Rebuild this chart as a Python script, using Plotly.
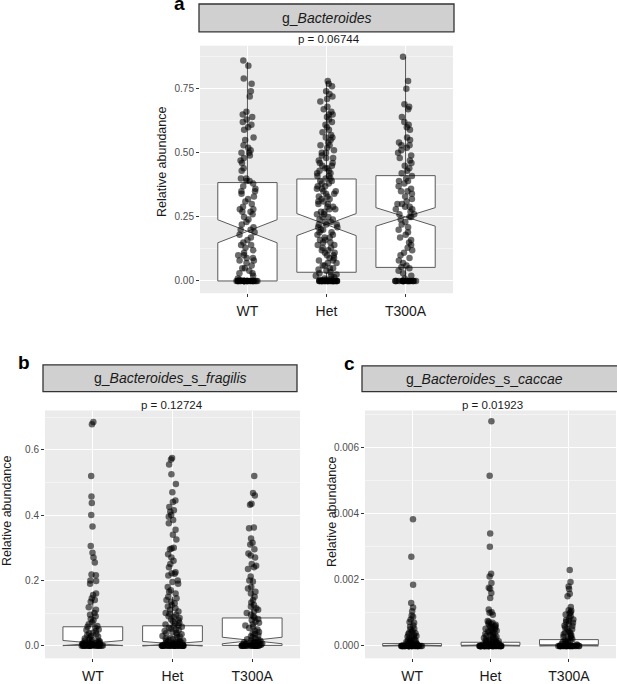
import plotly.graph_objects as go

W, H = 617, 684
groups = ["WT", "Het", "T300A"]

# ---- panel a: g_Bacteroides ----
a_wt = [0.86, 0.84, 0.79, 0.77, 0.74, 0.72, 0.66, 0.65, 0.64, 0.63, 0.62, 0.61, 0.60, 0.59,
        0.56, 0.55, 0.53, 0.52, 0.51, 0.50, 0.50, 0.49, 0.48, 0.47, 0.46, 0.44, 0.43, 0.40,
        0.40, 0.39, 0.39, 0.38, 0.37, 0.36, 0.35, 0.35, 0.34, 0.33, 0.32, 0.31, 0.30, 0.29,
        0.28, 0.28, 0.27, 0.27, 0.26, 0.25, 0.24, 0.23, 0.22, 0.21, 0.20, 0.20, 0.19, 0.18,
        0.17, 0.16, 0.15, 0.14, 0.14, 0.13, 0.12, 0.11, 0.10, 0.10, 0.09, 0.09, 0.08, 0.08,
        0.07, 0.06, 0.05, 0.05, 0.04, 0.03, 0.03, 0.02, 0.01, 0.005,
        0, 0, 0, 0, 0, 0, 0, 0, 0, 0, 0, 0, 0, 0, 0, 0, 0, 0, 0, 0, 0, 0, 0, 0, 0, 0, 0, 0]
a_het = [0.78, 0.77, 0.76, 0.74, 0.73, 0.72, 0.71, 0.70, 0.68, 0.67, 0.66, 0.65, 0.65, 0.64,
         0.63, 0.62, 0.61, 0.60, 0.59, 0.58, 0.57, 0.56, 0.56, 0.55, 0.54, 0.53, 0.53, 0.52,
         0.51, 0.50, 0.50, 0.49, 0.48, 0.48, 0.47, 0.46, 0.46, 0.45, 0.45, 0.44, 0.44, 0.43,
         0.43, 0.42, 0.42, 0.41, 0.41, 0.40, 0.40, 0.39, 0.39, 0.38, 0.38, 0.37, 0.37, 0.36,
         0.36, 0.35, 0.35, 0.34, 0.34, 0.33, 0.33, 0.32, 0.32, 0.31, 0.31, 0.30, 0.30, 0.29,
         0.29, 0.28, 0.28, 0.27, 0.27, 0.26, 0.26, 0.25, 0.25, 0.24, 0.24, 0.23, 0.23, 0.22,
         0.22, 0.22, 0.21, 0.21, 0.20, 0.20, 0.19, 0.19, 0.18, 0.18, 0.17, 0.17, 0.16, 0.16,
         0.15, 0.15, 0.14, 0.14, 0.13, 0.13, 0.12, 0.12, 0.11, 0.11, 0.10, 0.10, 0.09, 0.09,
         0.08, 0.08, 0.07, 0.07, 0.06, 0.06, 0.05, 0.05, 0.045, 0.04, 0.035, 0.03, 0.025,
         0.02, 0.02, 0.015, 0.01, 0.01, 0.005, 0.005, 0.003,
         0, 0, 0, 0, 0, 0, 0, 0, 0, 0, 0, 0, 0, 0, 0, 0, 0, 0, 0, 0, 0, 0, 0, 0, 0, 0, 0, 0]
a_t300a = [0.875, 0.78, 0.75, 0.69, 0.68, 0.67, 0.64, 0.62, 0.61, 0.60, 0.59, 0.56, 0.55, 0.54,
           0.53, 0.53, 0.52, 0.51, 0.50, 0.49, 0.48, 0.47, 0.46, 0.45, 0.44, 0.43, 0.42, 0.41,
           0.40, 0.39, 0.39, 0.38, 0.37, 0.36, 0.35, 0.35, 0.34, 0.33, 0.32, 0.31, 0.30, 0.30,
           0.29, 0.29, 0.28, 0.28, 0.27, 0.26, 0.26, 0.25, 0.25, 0.24, 0.23, 0.22, 0.21, 0.20,
           0.19, 0.18, 0.17, 0.16, 0.15, 0.14, 0.13, 0.12, 0.11, 0.10, 0.09, 0.08, 0.07, 0.06,
           0.055, 0.05, 0.04, 0.03, 0.02, 0.01,
           0, 0, 0, 0, 0, 0, 0, 0, 0, 0, 0, 0, 0, 0, 0, 0, 0, 0, 0, 0]
a_q1 = [0.0, 0.034, 0.053]
a_median = [0.194, 0.220, 0.250]
a_q3 = [0.384, 0.398, 0.411]
a_lower = [0.0, 0.0, 0.0]
a_upper = [0.855, 0.778, 0.875]
a_notch = [0.045, 0.043, 0.036]

# ---- panel b: g_Bacteroides_s_fragilis ----
b_wt = [0.685, 0.678, 0.52, 0.457, 0.437, 0.40, 0.365, 0.305, 0.285, 0.27, 0.255, 0.218, 0.216,
        0.20, 0.198, 0.19, 0.16, 0.155, 0.145, 0.14, 0.135, 0.118, 0.11, 0.10, 0.095, 0.09,
        0.082, 0.078, 0.072, 0.066, 0.06, 0.058, 0.055, 0.05, 0.048, 0.045, 0.04, 0.038, 0.035,
        0.032, 0.03, 0.028, 0.025, 0.022, 0.02, 0.018, 0.016, 0.015, 0.013, 0.012, 0.011, 0.01,
        0.009, 0.008, 0.008, 0.007, 0.006, 0.006, 0.005, 0.005, 0.004, 0.004, 0.003, 0.003,
        0.003, 0.002, 0.002, 0.002, 0.001, 0.001, 0.001, 0.001,
        0, 0, 0, 0, 0, 0, 0, 0, 0, 0, 0, 0, 0, 0, 0]
b_het = [0.575, 0.57, 0.555, 0.525, 0.495, 0.47, 0.445, 0.44, 0.425, 0.415, 0.41, 0.40, 0.395,
         0.385, 0.375, 0.355, 0.34, 0.325, 0.30, 0.298, 0.295, 0.28, 0.27, 0.26, 0.25, 0.24,
         0.225, 0.222, 0.22, 0.215, 0.20, 0.195, 0.19, 0.18, 0.17, 0.165, 0.16, 0.15, 0.145,
         0.14, 0.135, 0.13, 0.125, 0.12, 0.115, 0.11, 0.105, 0.10, 0.098, 0.095, 0.09, 0.088,
         0.085, 0.08, 0.078, 0.075, 0.07, 0.068, 0.065, 0.062, 0.06, 0.058, 0.055, 0.052, 0.05,
         0.048, 0.045, 0.042, 0.04, 0.038, 0.035, 0.033, 0.03, 0.028, 0.026, 0.024, 0.022, 0.02,
         0.018, 0.016, 0.015, 0.014, 0.013, 0.012, 0.011, 0.01, 0.009, 0.008, 0.007, 0.006,
         0.006, 0.005, 0.005, 0.004, 0.004, 0.004, 0.003, 0.003, 0.003, 0.002, 0.002, 0.002,
         0.002, 0.001, 0.001, 0.001, 0.001, 0.001,
         0, 0, 0, 0, 0, 0, 0, 0, 0, 0, 0, 0, 0, 0, 0, 0, 0, 0, 0, 0]
b_t300a = [0.52, 0.468, 0.46, 0.435, 0.432, 0.362, 0.36, 0.328, 0.315, 0.31, 0.295, 0.282, 0.276,
           0.27, 0.25, 0.245, 0.24, 0.235, 0.212, 0.2, 0.197, 0.18, 0.175, 0.165, 0.16, 0.15,
           0.14, 0.132, 0.125, 0.12, 0.115, 0.11, 0.105, 0.10, 0.095, 0.09, 0.086, 0.082, 0.078,
           0.074, 0.07, 0.066, 0.062, 0.058, 0.054, 0.05, 0.046, 0.042, 0.038, 0.035, 0.032,
           0.029, 0.026, 0.023, 0.02, 0.018, 0.016, 0.015, 0.013, 0.011, 0.01, 0.009, 0.008,
           0.007, 0.006, 0.005, 0.004, 0.003, 0.003, 0.002, 0.002, 0.001, 0.001, 0.001,
           0, 0, 0, 0, 0, 0, 0, 0, 0, 0, 0, 0, 0, 0, 0]
b_q1 = [0.001, 0.001, 0.001]
b_median = [0.008, 0.006, 0.016]
b_q3 = [0.058, 0.061, 0.085]
b_lower = [0.0, 0.0, 0.0]
b_upper = [0.14, 0.15, 0.21]
b_notch = [0.008, 0.007, 0.010]

# ---- panel c: g_Bacteroides_s_caccae ----
c_wt = [0.00383, 0.0027, 0.00185, 0.0013, 0.00116, 0.00105, 0.00092, 0.00088, 0.0008, 0.00072,
        0.0007, 0.00062, 0.00058, 0.00052, 0.0005, 0.00045, 0.00042, 0.0004, 0.00038, 0.00035,
        0.00033, 0.0003, 0.00028, 0.00026, 0.00024, 0.00022, 0.0002, 0.00018, 0.00016, 0.00015,
        0.00014, 0.00012, 0.0001, 0.00009, 0.00008, 0.00007, 0.00006, 0.00005, 0.00004, 0.00003,
        0.00002, 0.00002, 0.00001, 0.00001, 0.00001,
        0, 0, 0, 0, 0, 0, 0, 0, 0, 0, 0, 0, 0, 0, 0, 0, 0, 0, 0, 0, 0, 0, 0, 0, 0, 0, 0, 0, 0, 0]
c_het = [0.0068, 0.00515, 0.0034, 0.003, 0.00218, 0.0021, 0.0019, 0.00176, 0.00173, 0.0016,
         0.00145, 0.0011, 0.00102, 0.001, 0.00094, 0.00075, 0.00073, 0.0007, 0.00068, 0.00066,
         0.00064, 0.00062, 0.0006, 0.00058, 0.00056, 0.00054, 0.00052, 0.0005, 0.00048, 0.00046,
         0.00044, 0.00042, 0.0004, 0.00038, 0.00036, 0.00034, 0.00032, 0.0003, 0.00028, 0.00026,
         0.00024, 0.00022, 0.0002, 0.00019, 0.00018, 0.00016, 0.00015, 0.00014, 0.00013, 0.00012,
         0.00011, 0.0001, 0.00009, 0.00008, 0.00007, 0.00006, 0.00005, 0.00005, 0.00004, 0.00004,
         0.00003, 0.00003, 0.00002, 0.00002, 0.00002, 0.00001, 0.00001, 0.00001,
         0, 0, 0, 0, 0, 0, 0, 0, 0, 0, 0, 0, 0, 0, 0, 0, 0, 0, 0, 0, 0, 0, 0, 0, 0, 0, 0, 0, 0, 0,
         0, 0, 0, 0, 0, 0, 0, 0, 0, 0]
c_t300a = [0.0023, 0.00193, 0.0018, 0.00172, 0.00158, 0.0015, 0.00118, 0.00108, 0.00106, 0.00102,
           0.00098, 0.00095, 0.0009, 0.00085, 0.0008, 0.00078, 0.00076, 0.00072, 0.0007, 0.00066,
           0.00062, 0.0006, 0.00056, 0.00052, 0.0005, 0.00046, 0.00042, 0.0004, 0.00038, 0.00035,
           0.00032, 0.0003, 0.00028, 0.00025, 0.00022, 0.0002, 0.00018, 0.00016, 0.00014, 0.00012,
           0.0001, 0.00008, 0.00006, 0.00005, 0.00004, 0.00003, 0.00002, 0.00001,
           0, 0, 0, 0, 0, 0, 0, 0, 0, 0, 0, 0, 0, 0, 0, 0, 0, 0, 0, 0, 0, 0, 0, 0]
c_q1 = [0.0, 0.0, 0.0]
c_median = [0.000005, 0.00001, 0.00002]
c_q3 = [0.00007, 0.00011, 0.00019]
c_lower = [0.0, 0.0, 0.0]
c_upper = [0.00017, 0.00027, 0.00047]
c_notch = [0.000005, 0.000008, 0.000015]

FONT = "Liberation Sans, Arial, sans-serif"


def px(x):
    return x / W


def py(y):
    return 1 - y / H


panels = [
    dict(ax="", data=[a_wt, a_het, a_t300a], q1=a_q1, med=a_median, q3=a_q3, lo=a_lower, up=a_upper,
         notch=a_notch, xdom=[px(200), px(453)], ydom=[py(295), py(46)], yrange=[-0.048, 0.918],
         dtick=0.25, fmt=".2f", title="g_<i>Bacteroides</i>", p="p = 0.06744",
         strip=(199, 454, 4, 32), tx=327, letter=("a", 180, 4), ytitle=(162, 162), ptext=(329, 39)),
    dict(ax="2", data=[b_wt, b_het, b_t300a], q1=b_q1, med=b_median, q3=b_q3, lo=b_lower, up=b_upper,
         notch=b_notch, xdom=[px(45), px(300)], ydom=[py(662), py(413)], yrange=[-0.038, 0.72],
         dtick=0.2, fmt=".1f", title="g_<i>Bacteroides</i>_s_<i>fragilis</i>", p="p = 0.12724",
         strip=(43, 297, 367, 394), tx=171, letter=("b", 24, 365), ytitle=(7, 514), ptext=(172, 407)),
    dict(ax="3", data=[c_wt, c_het, c_t300a], q1=c_q1, med=c_median, q3=c_q3, lo=c_lower, up=c_upper,
         notch=c_notch, xdom=[px(365), px(616)], ydom=[py(662), py(413)], yrange=[-0.00037, 0.00712],
         dtick=0.002, fmt=".3f", title="g_<i>Bacteroides</i>_s_<i>caccae</i>", p="p = 0.01923",
         strip=(362, 622, 368, 394), tx=484, letter=("c", 349, 366), ytitle=(332, 515), ptext=(493, 407)),
]

fig = go.Figure()
shapes, annotations = [], []


def label(text, x, y, size, angle=0, color="#1a1a1a"):
    annotations.append(dict(text=text, xref="paper", yref="paper", x=px(x), y=py(y),
                            xanchor="center", yanchor="middle", textangle=angle,
                            showarrow=False, font=dict(family=FONT, size=size, color=color)))


for pn in panels:
    xa, ya = "x" + pn["ax"], "y" + pn["ax"]
    # notched boxes from the summary statistics
    fig.add_trace(go.Box(
        x=groups, q1=pn["q1"], median=pn["med"], q3=pn["q3"],
        lowerfence=pn["lo"], upperfence=pn["up"], notchspan=pn["notch"],
        notched=True, notchwidth=0.5, width=0.75, whiskerwidth=0,
        fillcolor="white", line=dict(color="#5a5a5a", width=1),
        boxpoints=False, showlegend=False, hoverinfo="skip",
        xaxis=xa, yaxis=ya,
    ))
    # jittered sample points on top
    xs, ys = [], []
    for g, vals in zip(groups, pn["data"]):
        xs += [g] * len(vals)
        ys += vals
    fig.add_trace(go.Box(
        x=xs, y=ys, boxpoints="all", jitter=0.38, pointpos=0, width=0.75,
        whiskerwidth=0, fillcolor="rgba(0,0,0,0)",
        line=dict(color="rgba(0,0,0,0)", width=0),
        marker=dict(color="rgba(0,0,0,0.58)", size=6.5, line=dict(width=0)),
        showlegend=False, xaxis=xa, yaxis=ya,
    ))

    fig.layout["xaxis" + pn["ax"]] = dict(
        domain=pn["xdom"], anchor=ya, type="category", categoryorder="array",
        categoryarray=groups, range=[-0.6, 2.6], showgrid=True, gridcolor="white",
        gridwidth=1.1, ticks="outside", ticklen=3, tickcolor="#333333", tickwidth=0.8,
        ticklabelstandoff=2,
        tickfont=dict(family=FONT, size=14, color="#1a1a1a"), zeroline=False,
        showline=False, fixedrange=True,
    )
    fig.layout["yaxis" + pn["ax"]] = dict(
        domain=pn["ydom"], anchor=xa, range=pn["yrange"], tick0=0, dtick=pn["dtick"],
        tickformat=pn["fmt"], showgrid=True, gridcolor="white", gridwidth=1.1,
        minor=dict(dtick=pn["dtick"] / 2, showgrid=True, gridcolor="#f4f4f4", gridwidth=0.5),
        ticks="outside", ticklen=3, tickcolor="#333333", tickwidth=0.8,
        tickfont=dict(family=FONT, size=10, color="#4d4d4d"), zeroline=False,
        showline=False, fixedrange=True,
    )

    # panel background
    shapes.append(dict(type="rect", xref=xa + " domain", yref=ya + " domain",
                       x0=0, x1=1, y0=0, y1=1, fillcolor="#ebebeb", line=dict(width=0),
                       layer="below"))
    # facet strip
    sx0, sx1, sy0, sy1 = pn["strip"]
    shapes.append(dict(type="rect", xref="paper", yref="paper",
                       x0=px(sx0), x1=px(sx1), y0=py(sy1), y1=py(sy0),
                       fillcolor="#d0d0d0", line=dict(color="#333333", width=1.3)))
    label(pn["title"], pn["tx"], (sy0 + sy1) / 2, 14)
    label(pn["p"], pn["ptext"][0], pn["ptext"][1], 11.5)
    label("Relative abundance", pn["ytitle"][0], pn["ytitle"][1], 12.5, angle=-90)
    lt, lx, ly = pn["letter"]
    label("<b>" + lt + "</b>", lx, ly, 19, color="black")

fig.update_layout(
    width=W, height=H, margin=dict(l=0, r=0, t=0, b=0),
    paper_bgcolor="white", plot_bgcolor="rgba(0,0,0,0)",
    boxmode="overlay", showlegend=False,
    shapes=shapes, annotations=annotations,
    font=dict(family=FONT),
)

# the page body has a default 8px margin; drop it so the figure fills the window
fig.write_html("out.html", config={"displayModeBar": False},
               post_script="document.body.style.margin='0px';")
